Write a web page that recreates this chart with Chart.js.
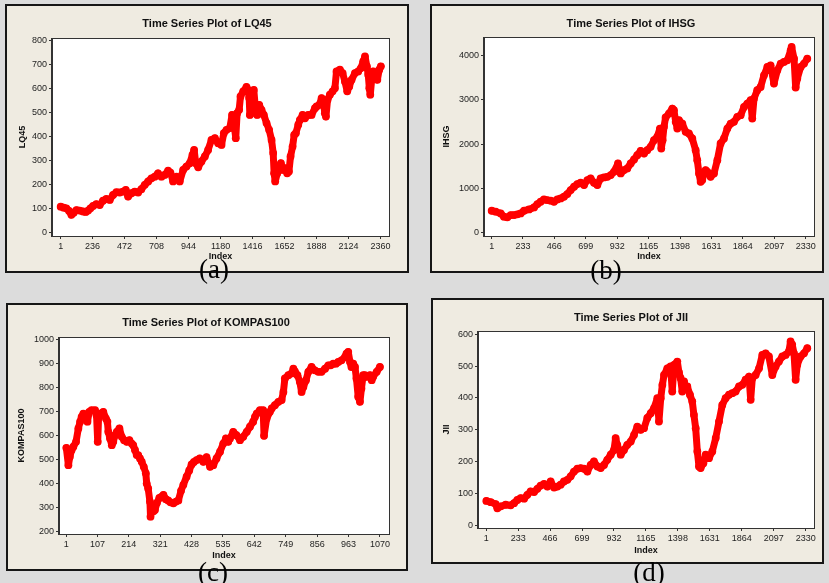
<!DOCTYPE html>
<html>
<head>
<meta charset="utf-8">
<script src="https://cdn.jsdelivr.net/npm/chart.js@4.4.0/dist/chart.umd.min.js"></script>
<style>
  html, body { margin: 0; padding: 0; }
  body {
    width: 829px; height: 583px; position: relative; overflow: hidden;
    background: #dcdcdc;
    font-family: "Liberation Sans", "DejaVu Sans", sans-serif;
  }
  .frame {
    position: absolute; box-sizing: border-box;
    border: 2px solid #161616; background: #efebe1;
  }
  .frame canvas { position: absolute; left: 0; top: 0; }
  .cap {
    position: absolute; transform: translate(-50%, -50%);
    font-family: "Liberation Serif", "Times New Roman", serif;
    font-size: 27px; line-height: 1; color: #000; white-space: nowrap;
  }
</style>
</head>
<body>
<div class="frame" id="frameA"><canvas id="chartA"></canvas></div>
<div class="frame" id="frameB"><canvas id="chartB"></canvas></div>
<div class="frame" id="frameC"><canvas id="chartC"></canvas></div>
<div class="frame" id="frameD"><canvas id="chartD"></canvas></div>
<div class="cap" id="capA">(a)</div>
<div class="cap" id="capB">(b)</div>
<div class="cap" id="capC">(c)</div>
<div class="cap" id="capD">(d)</div>

<script>
// ---- LQ45 daily index ----
const LQ45_INDEX = [1,23,43,63,80,97,117,141,166,186,
  203,220,240,264,289,313,338,363,387,412,
  436,461,481,498,523,547,572,596,621,646,
  670,695,719,744,768,793,810,830,855,879,
  904,928,953,973,985,997,1015,1039,1064,1088,
  1113,1138,1162,1187,1204,1224,1248,1265,1280,1292,
  1302,1317,1327,1347,1371,1383,1391,1396,1408,1425,
  1440,1450,1465,1482,1499,1519,1538,1556,1568,1575,
  1583,1598,1612,1625,1637,1654,1671,1684,1696,1711,
  1723,1735,1753,1765,1785,1802,1826,1851,1876,1888,
  1908,1925,1937,1949,1957,1969,1986,2006,2023,2035,
  2060,2080,2097,2114,2129,2146,2171,2195,2215,2232,
  2245,2259,2269,2277,2284,2294,2306,2323,2336,2350,
  2362];
const LQ45_VALUE = [108,104,101,90,74,83,94,92,88,86,
  92,101,111,119,115,133,140,136,157,168,
  167,171,178,150,164,171,167,181,199,213,
  226,233,247,233,240,258,250,213,233,213,
  261,275,289,324,344,289,272,296,317,344,
  386,393,372,365,414,428,435,490,449,393,
  497,511,567,588,606,594,560,490,588,594,
  497,490,532,511,490,456,428,386,331,247,
  213,247,275,289,261,268,247,254,317,358,
  407,414,449,469,490,476,490,490,518,525,
  532,560,546,497,483,553,574,588,601,671,
  678,664,629,588,608,636,664,671,685,713,
  733,692,657,601,574,636,671,657,636,678,
  692];
const LQ45_X_TICKS = [1,236,472,708,944,1180,1416,1652,1888,2124,2360];
const LQ45_Y_TICKS = [0,100,200,300,400,500,600,700,800];

// ---- IHSG composite index ----
const IHSG_INDEX = [1,31,68,92,117,142,167,191,216,241,
  278,315,340,364,389,414,439,463,488,513,
  537,562,587,612,636,661,686,711,735,760,
  785,809,834,859,884,908,938,958,983,1007,
  1032,1057,1081,1106,1131,1155,1180,1205,1229,1249,
  1259,1269,1279,1291,1316,1341,1353,1366,1378,1390,
  1415,1440,1464,1489,1514,1526,1539,1551,1563,1576,
  1588,1601,1625,1650,1675,1699,1724,1749,1774,1798,
  1823,1848,1873,1897,1922,1934,1947,1971,1996,2021,
  2046,2070,2095,2120,2145,2169,2194,2219,2226,2244,
  2256,2268,2293,2318,2342];
const IHSG_VALUE = [496,474,436,361,346,398,398,414,436,496,
  526,571,647,699,752,737,722,699,752,774,
  812,872,962,1038,1098,1128,1075,1188,1226,1128,
  1075,1226,1248,1263,1301,1376,1564,1338,1414,1451,
  1564,1654,1752,1850,1789,1865,1940,2090,2165,2353,
  1902,2090,2391,2602,2692,2805,2767,2504,2353,2541,
  2466,2278,2241,2128,1865,1639,1338,1150,1188,1338,
  1414,1376,1263,1338,1639,2015,2128,2353,2466,2504,
  2617,2654,2842,2917,2992,2579,3030,3218,3293,3556,
  3744,3782,3368,3669,3820,3857,3895,4120,4195,3932,
  3278,3481,3744,3820,3932];
const IHSG_X_TICKS = [1,233,466,699,932,1165,1398,1631,1864,2097,2330];
const IHSG_Y_TICKS = [0,1000,2000,3000,4000];

// ---- KOMPAS100 index ----
const KOMPAS100_INDEX = [1,8,13,19,25,34,42,48,53,59,
  68,73,79,87,99,104,108,111,116,127,
  136,141,144,150,156,161,167,173,182,190,
  198,207,216,224,229,235,241,246,252,258,
  265,272,275,280,286,288,293,298,303,310,
  318,325,332,340,348,356,366,375,383,392,
  400,411,420,428,436,445,456,468,479,491,
  502,513,525,536,545,553,559,570,581,593,
  604,616,627,638,644,650,661,672,675,684,
  695,701,712,724,735,741,746,758,769,775,
  780,789,797,803,809,818,826,837,848,860,
  871,883,894,902,911,920,928,939,951,956,
  962,968,973,979,985,990,996,1002,1007,1013,
  1019,1025,1036,1042,1047,1059,1070];
const KOMPAS100_VALUE = [549,477,512,540,554,574,630,658,678,692,
  685,658,699,706,706,685,574,678,692,699,
  671,658,616,588,560,574,602,616,630,595,
  581,574,581,567,560,540,519,519,505,491,
  470,443,400,380,325,262,300,285,290,320,
  340,345,353,335,330,322,318,325,330,370,
  395,429,455,480,490,498,505,491,510,470,
  477,505,533,567,588,574,588,616,602,581,
  595,616,637,658,678,692,706,706,599,671,
  699,713,727,741,748,782,838,852,859,879,
  868,852,824,782,803,831,866,886,872,866,
  866,879,893,893,900,900,907,914,928,942,
  949,907,886,900,886,838,762,741,796,852,
  852,845,852,831,845,866,886];
const KOMPAS100_X_TICKS = [1,107,214,321,428,535,642,749,856,963,1070];
const KOMPAS100_Y_TICKS = [200,300,400,500,600,700,800,900,1000];

// ---- JII index ----
const JII_INDEX = [1,33,69,81,106,142,178,203,227,251,
  276,300,324,349,373,397,422,446,470,495,
  519,543,567,592,616,640,665,689,713,738,
  762,786,811,835,859,883,908,932,944,956,
  981,1005,1029,1054,1078,1102,1127,1151,1175,1200,
  1224,1248,1260,1273,1285,1297,1321,1345,1357,1370,
  1394,1406,1418,1430,1443,1455,1467,1486,1503,1515,
  1528,1540,1552,1564,1584,1601,1625,1649,1674,1698,
  1722,1746,1771,1795,1819,1844,1868,1892,1917,1929,
  1941,1965,1990,2014,2038,2062,2087,2111,2135,2160,
  2184,2208,2220,2232,2245,2257,2269,2293,2318,2342];
const JII_VALUE = [77,73,67,54,60,65,63,70,80,86,
  84,96,107,105,115,125,130,122,138,119,
  122,128,138,143,154,169,178,180,178,169,
  190,201,185,180,190,206,222,237,274,253,
  222,237,253,263,284,310,300,305,337,352,
  368,399,326,399,441,472,493,499,420,504,
  514,480,462,420,452,431,436,410,389,347,
  305,232,185,180,195,222,211,232,274,326,
  378,399,410,415,420,436,441,457,467,394,
  462,472,493,535,540,530,472,499,514,530,
  535,546,577,567,540,457,504,530,540,556];
const JII_X_TICKS = [1,233,466,699,932,1165,1398,1631,1864,2097,2330];
const JII_Y_TICKS = [0,100,200,300,400,500,600];

// ---- panel layout (page pixels) ----
const FRAME_BORDER = 2;
const PANELS = [
  { frame: 'frameA', canvas: 'chartA', cap: 'capA', capAt: [214, 269],
    box: [5, 4, 409, 273], plot: [52, 38, 389, 236], titleAt: [207, 24],
    yTitleX: 23, xTitleY: 257,
    title: 'Time Series Plot of LQ45', yTitle: 'LQ45',
    index: LQ45_INDEX, value: LQ45_VALUE, xTicks: LQ45_X_TICKS, yTicks: LQ45_Y_TICKS,
    xRange: [-63, 2422], yRange: [-14, 810] },
  { frame: 'frameB', canvas: 'chartB', cap: 'capB', capAt: [606, 270],
    box: [430, 4, 824, 273], plot: [484, 37, 814, 236], titleAt: [631, 24],
    yTitleX: 447, xTitleY: 257,
    title: 'Time Series Plot of IHSG', yTitle: 'IHSG',
    index: IHSG_INDEX, value: IHSG_VALUE, xTicks: IHSG_X_TICKS, yTicks: IHSG_Y_TICKS,
    xRange: [-56, 2392], yRange: [-75, 4421] },
  { frame: 'frameC', canvas: 'chartC', cap: 'capC', capAt: [213, 572],
    box: [6, 303, 408, 571], plot: [59, 337, 389, 534], titleAt: [206, 323],
    yTitleX: 22, xTitleY: 556,
    title: 'Time Series Plot of KOMPAS100', yTitle: 'KOMPAS100',
    index: KOMPAS100_INDEX, value: KOMPAS100_VALUE, xTicks: KOMPAS100_X_TICKS, yTicks: KOMPAS100_Y_TICKS,
    xRange: [-24, 1101], yRange: [190, 1011] },
  { frame: 'frameD', canvas: 'chartD', cap: 'capD', capAt: [649, 572],
    box: [431, 298, 824, 564], plot: [478, 331, 814, 528], titleAt: [631, 318],
    yTitleX: 447, xTitleY: 551,
    title: 'Time Series Plot of JII', yTitle: 'JII',
    index: JII_INDEX, value: JII_VALUE, xTicks: JII_X_TICKS, yTicks: JII_Y_TICKS,
    xRange: [-60, 2391], yRange: [-8, 610] }
];

const AXIS_COLOR = '#333';
const TICK_FONT = { family: '"Liberation Sans", "DejaVu Sans", sans-serif', size: 9 };
const AXIS_TITLE_FONT = { family: '"Liberation Sans", "DejaVu Sans", sans-serif', size: 9, weight: 'bold', lineHeight: 1.2 };

// white plot area with a dark frame, plus the bold panel title
const plotFrame = {
  id: 'plotFrame',
  beforeDraw(chart) {
    const { ctx, chartArea: a } = chart;
    ctx.save();
    ctx.fillStyle = '#ffffff';
    ctx.fillRect(a.left, a.top, a.right - a.left, a.bottom - a.top);
    ctx.restore();
  },
  afterDraw(chart, args, opts) {
    const { ctx, chartArea: a } = chart;
    ctx.save();
    ctx.strokeStyle = AXIS_COLOR;
    ctx.lineWidth = 1;
    ctx.strokeRect(Math.round(a.left) - 0.5, Math.round(a.top) + 0.5,
                   Math.round(a.right - a.left) + 1, Math.round(a.bottom - a.top));
    ctx.fillStyle = '#111';
    ctx.font = 'bold 11px "Liberation Sans", "DejaVu Sans", sans-serif';
    ctx.textAlign = 'center';
    ctx.textBaseline = 'middle';
    ctx.fillText(opts.text, opts.x, opts.y);
    ctx.restore();
  }
};

function buildPanel(p) {
  const frame = document.getElementById(p.frame);
  const [fx0, fy0, fx1, fy1] = p.box;
  frame.style.left = fx0 + 'px';
  frame.style.top = fy0 + 'px';
  frame.style.width = (fx1 - fx0) + 'px';
  frame.style.height = (fy1 - fy0) + 'px';

  const cw = fx1 - fx0 - 2 * FRAME_BORDER, ch = fy1 - fy0 - 2 * FRAME_BORDER;
  const ox = fx0 + FRAME_BORDER, oy = fy0 + FRAME_BORDER;
  const L = p.plot[0] - ox, T = p.plot[1] - oy, R = p.plot[2] - ox, B = p.plot[3] - oy;

  const canvas = document.getElementById(p.canvas);
  canvas.width = cw; canvas.height = ch;
  canvas.style.width = cw + 'px'; canvas.style.height = ch + 'px';

  const cap = document.getElementById(p.cap);
  cap.style.left = p.capAt[0] + 'px';
  cap.style.top = p.capAt[1] + 'px';

  const half = AXIS_TITLE_FONT.size * AXIS_TITLE_FONT.lineHeight / 2;
  const points = p.index.map((x, i) => ({ x: x, y: p.value[i] }));

  new Chart(canvas, {
    type: 'line',
    data: {
      datasets: [{
        data: points,
        borderColor: '#ff0000',
        borderWidth: 7,
        borderJoinStyle: 'round',
        borderCapStyle: 'round',
        tension: 0,
        pointRadius: 3.9,
        pointBackgroundColor: '#ff0000',
        pointBorderWidth: 0,
        pointHoverRadius: 3.9
      }]
    },
    options: {
      responsive: false,
      animation: false,
      devicePixelRatio: 1,
      events: [],
      layout: { padding: { left: 0, top: T, right: cw - R, bottom: 0 } },
      plugins: {
        legend: { display: false },
        tooltip: { enabled: false },
        title: { display: false },
        plotFrame: { text: p.title, x: p.titleAt[0] - ox, y: p.titleAt[1] - oy }
      },
      scales: {
        x: {
          type: 'linear',
          min: p.xRange[0], max: p.xRange[1],
          afterBuildTicks: s => { s.ticks = p.xTicks.map(v => ({ value: v })); },
          afterFit: s => { s.height = ch - B; },
          grid: { drawOnChartArea: false, drawTicks: true, tickLength: 3, color: AXIS_COLOR },
          border: { display: true, color: AXIS_COLOR, width: 1 },
          ticks: { autoSkip: false, maxRotation: 0, padding: 2, color: '#1e1e1e', font: TICK_FONT,
                   callback: v => String(v) },
          title: { display: true, text: 'Index', color: '#111', font: AXIS_TITLE_FONT,
                   padding: { top: 0, bottom: ch - (p.xTitleY - oy) - half } }
        },
        y: {
          type: 'linear',
          min: p.yRange[0], max: p.yRange[1],
          afterBuildTicks: s => { s.ticks = p.yTicks.map(v => ({ value: v })); },
          afterFit: s => { s.width = L; },
          grid: { drawOnChartArea: false, drawTicks: true, tickLength: 3, color: AXIS_COLOR },
          border: { display: true, color: AXIS_COLOR, width: 1 },
          ticks: { autoSkip: false, padding: 2, color: '#1e1e1e', font: TICK_FONT,
                   callback: v => String(v) },
          title: { display: true, text: p.yTitle, color: '#111', font: AXIS_TITLE_FONT,
                   padding: { top: (p.yTitleX - ox) - half, bottom: 0 } }
        }
      }
    },
    plugins: [plotFrame]
  });
}

PANELS.forEach(buildPanel);
</script>
</body>
</html>
